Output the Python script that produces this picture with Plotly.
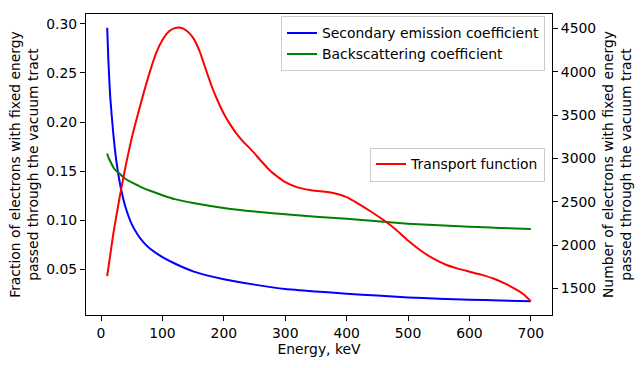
import plotly.graph_objects as go

# Energy grid (keV) for the two coefficient curves
energy_coef = [10, 12, 15, 20, 25, 30, 35, 40, 50, 60, 70, 80, 100, 120, 150,
               200, 250, 300, 350, 400, 450, 500, 550, 600, 650, 700]
secondary_emission = [0.296, 0.262, 0.225, 0.188, 0.160, 0.140, 0.125, 0.113,
                      0.096, 0.085, 0.077, 0.071, 0.0625, 0.056, 0.048, 0.040,
                      0.0345, 0.030, 0.0275, 0.0253, 0.0233, 0.0215, 0.0202,
                      0.0192, 0.0183, 0.0175]
backscattering = [0.168, 0.164, 0.160, 0.154, 0.150, 0.1475, 0.1445, 0.142,
                  0.1385, 0.1355, 0.1325, 0.130, 0.1255, 0.1215, 0.1175,
                  0.1125, 0.1088, 0.106, 0.1035, 0.1015, 0.099, 0.0965,
                  0.0948, 0.0935, 0.0922, 0.091]

# Energy grid (keV) for the transport function
energy_tr = [10, 20, 30, 40, 50, 60, 70, 80, 90, 100, 110, 120, 130, 140, 150,
             160, 170, 180, 190, 200, 210, 220, 230, 240, 250, 260, 275, 290,
             300, 320, 340, 360, 380, 400, 420, 440, 460, 480, 500, 520, 540,
             560, 580, 600, 620, 640, 660, 680, 690, 700]
transport = [1642, 2130, 2540, 2910, 3235, 3510, 3770, 4010, 4220, 4365, 4460,
             4503, 4508, 4470, 4390, 4245, 4040, 3835, 3665, 3515, 3395, 3292,
             3205, 3132, 3057, 2975, 2860, 2775, 2725, 2665, 2635, 2618, 2597,
             2552, 2472, 2384, 2288, 2180, 2052, 1940, 1848, 1778, 1730, 1692,
             1655, 1610, 1548, 1470, 1420, 1350]

xticks = [0, 100, 200, 300, 400, 500, 600, 700]
yticks_left = [0.05, 0.10, 0.15, 0.20, 0.25, 0.30]
yticks_right = [1500, 2000, 2500, 3000, 3500, 4000, 4500]

FONT = "DejaVu Sans"
FS = 13.9

def pad_range(vals, frac=0.05):
    lo, hi = min(vals), max(vals)
    s = hi - lo
    return [lo - frac * s, hi + frac * s]

fig = go.Figure()
fig.add_trace(go.Scatter(x=energy_coef, y=secondary_emission, mode="lines",
                         name="Secondary emission coefficient",
                         line=dict(color="#0000ff", width=2, shape="spline", smoothing=0.5),
                         legend="legend"))
fig.add_trace(go.Scatter(x=energy_coef, y=backscattering, mode="lines",
                         name="Backscattering coefficient",
                         line=dict(color="#008000", width=2, shape="spline", smoothing=0.5),
                         legend="legend"))
fig.add_trace(go.Scatter(x=energy_tr, y=transport, mode="lines",
                         name="Transport function", yaxis="y2",
                         line=dict(color="#ff0000", width=2, shape="spline", smoothing=0.5),
                         legend="legend2"))

tickfont = dict(family=FONT, size=FS, color="black")
axis_common = dict(showgrid=False, zeroline=False, ticks="outside", ticklen=5,
                   tickwidth=1.1, tickcolor="black", showline=True,
                   linecolor="black", linewidth=1.1, tickfont=tickfont,
                   automargin=False)

fig.update_layout(
    width=642, height=368,
    margin=dict(l=86, r=90, t=14, b=53),
    paper_bgcolor="white", plot_bgcolor="white",
    font=dict(family=FONT, size=FS, color="black"),
    xaxis=dict(range=pad_range(energy_coef + energy_tr), tickvals=xticks,
               mirror=True,
               title=dict(text="Energy, keV", font=dict(family=FONT, size=FS), standoff=4),
               **axis_common),
    yaxis=dict(range=pad_range(secondary_emission + backscattering),
               tickvals=yticks_left, tickformat=".2f",
               title=dict(text="Fraction of electrons with fixed energy<br>passed through the vacuum tract",
                          font=dict(family=FONT, size=FS), standoff=4),
               **axis_common),
    yaxis2=dict(range=pad_range(transport), tickvals=yticks_right,
                overlaying="y", side="right",
                title=dict(text="Number of electrons with fixed energy<br>passed through the vacuum tract",
                           font=dict(family=FONT, size=FS), standoff=8),
                **axis_common),
    legend=dict(x=0.985, y=0.992, xanchor="right", yanchor="top",
                bgcolor="rgba(255,255,255,0.8)", bordercolor="#cccccc", borderwidth=1,
                font=dict(family=FONT, size=FS), tracegroupgap=0),
    legend2=dict(x=0.985, y=0.5, xanchor="right", yanchor="middle",
                 bgcolor="rgba(255,255,255,0.8)", bordercolor="#cccccc", borderwidth=1,
                 font=dict(family=FONT, size=FS)),
    showlegend=True,
)

fig.write_html("out.html", config={"displayModeBar": False},
               post_script="document.body.style.margin='0';")
